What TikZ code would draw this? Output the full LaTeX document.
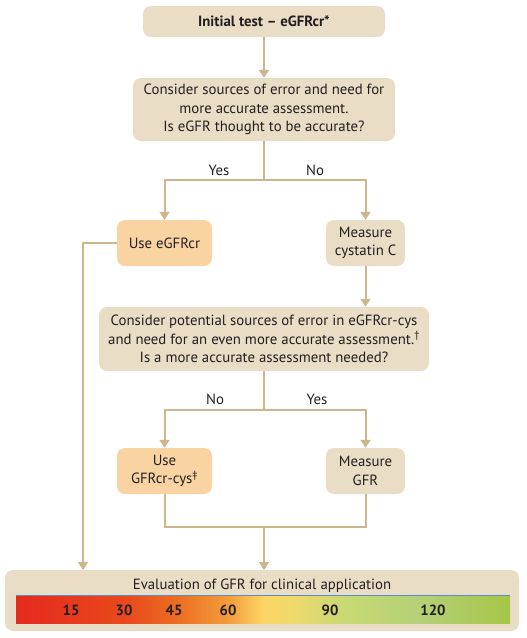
\documentclass[tikz,border=0pt]{standalone}
\usepackage{fontspec}
\setmainfont{PT Sans}
\usetikzlibrary{arrows.meta}
\definecolor{boxfill}{HTML}{EADDC5}
\definecolor{orangefill}{HTML}{F9D3A2}
\definecolor{linecol}{HTML}{CDB68C}
\definecolor{txt}{HTML}{231F20}
\definecolor{barblue}{HTML}{5B8DC4}
\definecolor{gfrA}{HTML}{E42A1F}
\definecolor{gfrB}{HTML}{E8491C}
\definecolor{gfrC}{HTML}{EC6B21}
\definecolor{gfrD}{HTML}{F39C3C}
\definecolor{gfrE}{HTML}{FDD565}
\definecolor{gfrF}{HTML}{EFD96B}
\definecolor{gfrG}{HTML}{C9D974}
\definecolor{gfrH}{HTML}{B4D077}
\definecolor{gfrI}{HTML}{A5C647}
\pgfdeclarehorizontalshading{gfrbar}{100bp}{%
  color(0bp)=(gfrA); color(25bp)=(gfrA); color(36bp)=(gfrB); color(41bp)=(gfrC);
  color(46.5bp)=(gfrD); color(50bp)=(gfrE); color(53bp)=(gfrF);
  color(58bp)=(gfrG); color(66bp)=(gfrH); color(75bp)=(gfrI); color(100bp)=(gfrI)}
\tikzset{
  box/.style={draw=none, fill=boxfill, rounded corners=8pt, align=center,
    inner sep=0pt, text=txt, font=\fontsize{14.8}{18.5}\selectfont},
  orangebox/.style={box, fill=orangefill},
  flow/.style={draw=linecol, line width=2pt},
  flowarrow/.style={flow, -{Triangle[width=10pt,length=8pt]}},
  lbl/.style={text=txt, font=\fontsize{14.8}{18}\selectfont}
}
\begin{document}
\begin{tikzpicture}[x=1pt, y=-1pt]
  \useasboundingbox (0,0) rectangle (527,638);
  % boxes
  \node[box, minimum width=242pt, minimum height=31pt, font=\fontsize{14.8}{18}\selectfont\bfseries]
    (init) at (264,21.5) {Initial test -- eGFRcr*};
  \node[box, minimum width=262pt, minimum height=63pt] (consider) at (264,109.5)
    {Consider sources of error and need for\\more accurate assessment.\\Is eGFR thought to be accurate?};
  \node[orangebox, minimum width=95pt, minimum height=46pt] (useCr) at (164.5,243) {Use eGFRcr};
  \node[box, minimum width=79pt, minimum height=46pt] (cys) at (365.5,243) {Measure\\cystatin C};
  \node[box, minimum width=330pt, minimum height=64pt] (potential) at (264,339)
    {Consider potential sources of error in eGFRcr-cys\\and need for an even more accurate assessment.\textsuperscript{†}\\Is a more accurate assessment needed?};
  \node[orangebox, minimum width=95pt, minimum height=46pt] (useCys) at (164.5,471) {Use\\GFRcr-cys\textsuperscript{‡}};
  \node[box, minimum width=79pt, minimum height=46pt] (mGFR) at (365.5,471) {Measure\\GFR};
  \node[box, minimum width=514pt, minimum height=61pt] (eval) at (262,600.5) {};
  \node[lbl, anchor=base] (evalTitle) at (262,589) {Evaluation of GFR for clinical application};
  % colour bar
  \shade[shading=gfrbar] (16,595) rectangle (510,623);
  \draw[barblue, line width=0.8pt] (16,595) -- (510,595);
  \foreach \v/\xp in {15/71,30/124,45/174,60/228,90/330,120/433}
    \node[lbl, font=\fontsize{14.8}{18}\selectfont\bfseries, anchor=base] (gfr\v) at (\xp,615) {\v};
  % connectors
  \coordinate (split1) at (264,180);
  \coordinate (split2) at (264,410);
  \coordinate (merge) at (264,527);
  \coordinate (leftIn) at (83,570);
  \coordinate (midIn) at (264,570);
  \draw[flowarrow] (init.south) -- (consider.north);
  \draw[flow] (consider.south) -- (split1);
  \draw[flowarrow] (split1) -| (useCr.north);
  \draw[flowarrow] (split1) -| (cys.north);
  \draw[flowarrow] (useCr.west) -| (leftIn);
  \draw[flowarrow] (cys.south) -- (cys.south |- potential.north);
  \draw[flow] (potential.south) -- (split2);
  \draw[flowarrow] (split2) -| (useCys.north);
  \draw[flowarrow] (split2) -| (mGFR.north);
  \draw[flow] (useCys.south) |- (merge) -| (mGFR.south);
  \draw[flowarrow] (merge) -- (midIn);
  % labels
  \node[lbl, anchor=base] (yes1) at (219,175) {Yes};
  \node[lbl, anchor=base] (no1) at (315,175) {No};
  \node[lbl, anchor=base] (no2) at (215,404) {No};
  \node[lbl, anchor=base] (yes2) at (317,404) {Yes};
\end{tikzpicture}
\end{document}
